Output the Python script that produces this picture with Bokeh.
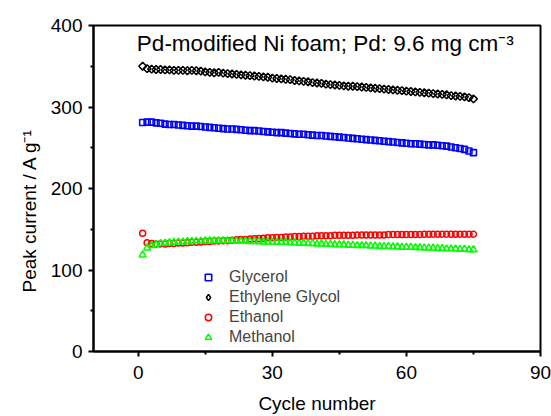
import numpy as np
from bokeh.plotting import figure
from bokeh.models import Range1d, FixedTicker, Legend, LegendItem, Label, Title
from bokeh.embed import file_html
from bokeh.resources import INLINE

FONT = "Liberation Sans"

cycles = list(range(1, 76))

glycerol = [
    281, 281.5, 281.5, 280.5, 280, 279, 278.5, 278.5, 278, 277.5,
    277, 276.5, 276.5, 276, 275.5, 275, 274.5, 274, 273.5, 273,
    273, 272.5, 272, 271.5, 271, 271, 270.5, 270, 269.5, 269,
    268.5, 268.5, 268, 267.5, 267, 266.5, 266.5, 266, 265.5, 265,
    265, 264.5, 264, 263.5, 263, 262.5, 262, 261.5, 261, 260.5,
    260, 259.5, 259, 258.5, 258, 257.5, 257, 256.5, 256, 255.5,
    255, 255, 254.5, 254, 253.5, 253.5, 253, 252.5, 252, 251,
    250, 249, 248, 246, 244,
]

ethylene_glycol = [
    350, 347, 346.5, 346, 346, 345.5, 345.5, 345, 345, 345,
    344.5, 345, 344.5, 344, 343, 342.5, 342, 342.5, 341.5, 341,
    340.5, 340, 339.5, 339, 338.5, 338, 337.5, 337, 336.5, 335.5,
    335, 334.5, 334, 333.5, 332.5, 332, 331.5, 331, 330, 329.5,
    329, 328, 327.5, 327, 326.5, 326, 325.5, 325.5, 325, 324.5,
    324, 323.5, 323, 322.5, 322, 321.5, 321, 320.5, 320, 319.5,
    319, 318.5, 318, 317.5, 317, 316.5, 316, 315.5, 315, 314,
    313.5, 313, 312.5, 311.5, 310,
]

ethanol = [
    145, 133.5, 132.5, 132, 132, 132, 132.5, 132.5, 133, 133,
    133.5, 134, 134, 134.5, 135, 135, 135.5, 135.5, 136, 136,
    136.5, 137, 137.5, 137.5, 138, 138.5, 138.5, 139, 139.5, 139.5,
    140, 140, 140.5, 140.5, 141, 141, 141.5, 141.5, 141.5, 142,
    142, 142, 142, 142.5, 142.5, 142.5, 142.5, 142.5, 143, 143,
    143, 143, 143, 143, 143, 143.5, 143.5, 143.5, 143.5, 143.5,
    143.5, 143.5, 143.5, 144, 144, 144, 144, 144, 144, 144,
    144, 144, 144, 144, 144,
]

methanol = [
    118.5, 127, 130, 131.5, 132.5, 133, 133.5, 134, 134.5, 134.5,
    135, 135, 135.5, 135.5, 136, 136, 136, 136, 136, 136,
    136, 135.5, 135.5, 135.5, 135, 135, 135, 134.5, 134.5, 134.5,
    134, 134, 134, 133.5, 133.5, 133, 133, 132.5, 132.5, 132,
    132, 131.5, 131.5, 131, 131, 131, 130.5, 130.5, 130, 130,
    130, 129.5, 129.5, 129, 129, 129, 128.5, 128.5, 128, 128,
    128, 127.5, 127.5, 127, 127, 127, 126.5, 126.5, 126, 126,
    126, 125.5, 125.5, 125, 125,
]

x_ticks = [0, 30, 60, 90]
y_ticks = [0, 100, 200, 300, 400]

p = figure(
    width=551, height=416,
    x_range=Range1d(-10, 90), y_range=Range1d(0, 400),
    output_backend="svg", toolbar_location=None,
    min_border_left=93, min_border_right=11,
    min_border_top=25, min_border_bottom=64,
)
p.background_fill_color = "white"
p.border_fill_color = "white"
p.outline_line_color = "black"
p.outline_line_width = 2
p.xgrid.visible = False
p.ygrid.visible = False

for ax in (p.xaxis[0], p.yaxis[0]):
    ax.axis_line_width = 2
    ax.axis_line_color = "black"
    ax.major_tick_line_width = 2
    ax.minor_tick_line_width = 2
    ax.major_tick_in = 0
    ax.major_tick_out = 5
    ax.minor_tick_in = 0
    ax.minor_tick_out = 3
    ax.major_label_text_font = FONT
    ax.major_label_text_font_size = "19px"
    ax.major_label_text_color = "black"
    ax.axis_label_text_font = FONT
    ax.axis_label_text_font_size = "19px"
    ax.axis_label_text_font_style = "normal"
    ax.axis_label_text_color = "black"

p.xaxis.ticker = FixedTicker(ticks=x_ticks, minor_ticks=[15, 45, 75])
p.yaxis.ticker = FixedTicker(ticks=y_ticks, minor_ticks=[50, 150, 250, 350])
p.xaxis.axis_label = "Cycle number"
p.xaxis.major_label_standoff = 9
p.yaxis.major_label_standoff = 6
p.xaxis.axis_label_standoff = 11

# y-axis title in a side panel, starting partway up the frame
p.add_layout(Title(
    text="Peak current / A g\u207b\u00b9", align="left", offset=59,
    text_font=FONT, text_font_size="19px", text_font_style="normal",
    text_color="black", standoff=15,
), "left")

r_gly = p.scatter(cycles, glycerol, marker="square", size=6,
                  fill_color=None, line_color="#0000ff", line_width=1.6)
r_eg = p.scatter(cycles, ethylene_glycol, marker="square", angle=np.pi / 4,
                 size=5.5, fill_color=None, line_color="black", line_width=1.5)
r_eth = p.scatter(cycles, ethanol, marker="circle", size=6,
                  fill_color=None, line_color="#ff0000", line_width=1.5)
r_met = p.scatter(cycles, methanol, marker="triangle", size=7,
                  fill_color=None, line_color="#00ff00", line_width=1.5)

# legend keys ignore marker angle, so the ethylene glycol key uses a
# hidden diamond renderer over the same data
eg_key = p.scatter(cycles, ethylene_glycol, marker="diamond", fill_color=None,
                   line_color="black", line_width=1.5, visible=False)

legend = Legend(
    items=[
        LegendItem(label="Glycerol", renderers=[r_gly]),
        LegendItem(label="Ethylene Glycol", renderers=[eg_key]),
        LegendItem(label="Ethanol", renderers=[r_eth]),
        LegendItem(label="Methanol", renderers=[r_met]),
    ],
    location=(107, 4),
    padding=0, margin=0, spacing=0,
    glyph_width=16, glyph_height=16, label_height=20,
    label_standoff=13,
    label_text_font=FONT, label_text_font_size="16px",
    background_fill_alpha=0, border_line_alpha=0,
    inactive_fill_alpha=0,
)
p.add_layout(legend, "center")

p.add_layout(Label(
    x=-0.3, y=378.5, text="Pd-modified Ni foam; Pd: 9.6 mg cm\u207b\u00b3",
    text_font=FONT, text_font_size="22.5px", text_baseline="alphabetic",
    text_align="left", text_color="black",
))

open("out.html", "w").write(file_html(p, INLINE))
